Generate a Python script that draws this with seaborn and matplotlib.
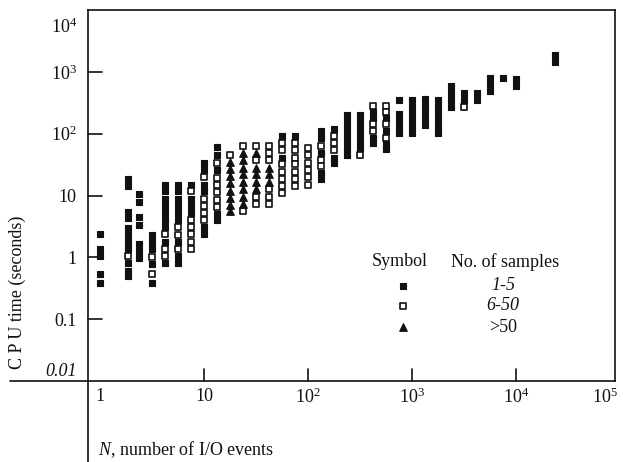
import matplotlib
matplotlib.use("Agg")
import matplotlib.pyplot as plt
from matplotlib.ticker import FixedLocator, FixedFormatter
from matplotlib.transforms import blended_transform_factory
import seaborn as sns
import pandas as pd

# CPU time (seconds) per column of N (number of I/O events), grouped by sample count
few_samples = {
    1: [2.4, 1.35, 1.04, 0.53, 0.39],
    1.86: [18.5, 14, 5.4, 4.3, 3.0, 2.3, 1.75, 1.35, 0.80, 0.61, 0.49],
    2.37: [10.4, 7.8, 4.5, 3.3, 1.65, 1.25, 0.96],
    3.16: [2.3, 1.75, 1.35, 0.77, 0.39],
    4.22: [15, 11.7, 8.8, 6.7, 5.2, 4.0, 3.1, 1.8, 0.8],
    5.62: [15, 11.7, 8.8, 6.7, 5.2, 4.0, 1.75, 1.04, 0.82],
    7.5: [15, 8.8, 6.7, 5.2],
    10: [34, 26, 15, 11.7, 3.1, 2.4],
    13.3: [61, 46, 26, 5.0, 4.0],
    56.2: [92, 41],
    75: [92],
    133: [111, 86, 48, 23, 18.5],
    178: [120, 41, 33],
    237: [198, 160, 124, 96, 74, 56, 45],
    316: [198, 160, 124, 96, 74, 58],
    422: [221, 178, 86, 71],
    562: [178, 111, 68, 56],
    750: [350, 205, 160, 124, 104],
    1000: [350, 274, 213, 165, 129, 104],
    1330: [365, 284, 221, 170, 138],
    1780: [350, 274, 213, 165, 129, 104],
    2370: [580, 450, 350, 274],
    3160: [450, 350],
    4220: [450, 350],
    5620: [805, 625, 487],
    7500: [805],
    10000: [776, 600],
    23700: [1850, 1430],
}

mid_samples = {
    1.86: [1.04],
    3.16: [1.0, 0.53],
    4.22: [2.4, 1.35, 1.04],
    5.62: [3.1, 2.3, 1.35],
    7.5: [11.7, 4.0, 3.1, 2.4, 1.8, 1.35],
    10: [20, 8.8, 6.7, 5.2, 4.0],
    13.3: [34, 19, 14.7, 11.2, 8.5, 6.5],
    17.8: [46],
    23.7: [63, 5.6],
    31.6: [63, 37, 9.5, 7.3],
    42.2: [63, 48, 37, 12.6, 9.5, 7.3],
    56.2: [71, 54, 32, 24, 18.5, 14, 10.8],
    75: [71, 54, 41, 32, 24, 18.5, 14],
    100: [58, 45, 34, 26, 20, 15],
    133: [63, 38, 30],
    178: [92, 71, 54],
    316: [46],
    422: [284, 143, 111],
    562: [284, 221, 143, 86],
    3160: [265],
}

many_samples = {
    17.8: [35, 27, 21, 16, 12, 9.2, 7.0, 5.6],
    23.7: [48, 37, 28, 22, 16.5, 12.6, 9.5, 7.3],
    31.6: [48, 28, 22, 16.5, 12.6],
    42.2: [28, 22, 16.5],
}

group_labels = ["1-5", "6-50", ">50"]

x_major = [10, 100, 1000, 10000]
x_major_labels = ["10", "$10^2$", "$10^3$", "$10^4$"]
y_major = [0.1, 1, 10, 100, 1000]
y_major_labels = ["0.1", "1", "10", "$10^2$", "$10^3$"]

rows = []
for label, groups in zip(group_labels, [few_samples, mid_samples, many_samples]):
    for n, values in groups.items():
        for v in values:
            rows.append({"N": n, "cpu": v, "samples": label})
df = pd.DataFrame(rows)

ink = "#111111"
sns.set_theme(style="ticks")
plt.rcParams.update({
    "font.family": ["Liberation Serif", "DejaVu Serif"],
    "mathtext.fontset": "custom",
    "mathtext.rm": "Liberation Serif",
    "mathtext.it": "Liberation Serif:italic",
})

W, H = 623, 462
fig = plt.figure(figsize=(W / 100, H / 100), dpi=100)
ax = fig.add_axes([88 / W, 1 - 381 / H, 527 / W, 371 / H])

marker_map = {"1-5": "s", "6-50": "s", ">50": "^"}
size_map = {"1-5": 20, "6-50": 15, ">50": 30}
face_map = {"1-5": ink, "6-50": "white", ">50": ink}
edge_width = {"1-5": 0.8, "6-50": 1.2, ">50": 0.8}

for lab in group_labels:
    sub = df[df["samples"] == lab]
    sns.scatterplot(
        data=sub, x="N", y="cpu", marker=marker_map[lab], s=size_map[lab],
        color=face_map[lab], edgecolor=ink, linewidth=edge_width[lab],
        legend=False, ax=ax, zorder=3,
    )

ax.set_xscale("log")
ax.set_yscale("log")
ax.set_xlim(10 ** -0.115, 10 ** 4.952)
ax.set_ylim(0.01, 1e4)

ax.xaxis.set_major_locator(FixedLocator(x_major))
ax.xaxis.set_major_formatter(FixedFormatter(x_major_labels))
ax.xaxis.set_minor_locator(FixedLocator([1, 10 ** 4.86]))
ax.xaxis.set_minor_formatter(FixedFormatter(["1", "$10^5$"]))
ax.yaxis.set_major_locator(FixedLocator(y_major))
ax.yaxis.set_major_formatter(FixedFormatter(y_major_labels))
ax.yaxis.set_minor_locator(FixedLocator([10 ** -1.82, 10 ** 3.76]))
ax.yaxis.set_minor_formatter(FixedFormatter(["0.01", "$10^4$"]))

# labels only from the axis machinery; the inward tick strokes are drawn below
ax.tick_params(axis="both", which="both", direction="in", colors=ink,
               labelsize=13, length=0, left=True, bottom=True)
ax.tick_params(axis="y", which="both", pad=8)
ax.tick_params(axis="x", which="both", pad=5)
for lbl in ax.yaxis.get_minorticklabels():
    if lbl.get_text() == "0.01":
        lbl.set_fontstyle("italic")

ax.set_xlabel("")
ax.set_ylabel("")
for side in ["left", "right", "top", "bottom"]:
    ax.spines[side].set_visible(True)
    ax.spines[side].set_color(ink)
    ax.spines[side].set_linewidth(1.2)

# inward tick strokes at the major tick positions
y_tick_tf = blended_transform_factory(ax.transAxes, ax.transData)
for yv in y_major:
    ax.plot([0, 14 / 527], [yv, yv], transform=y_tick_tf, color=ink, lw=1.2,
            clip_on=False, zorder=4)
x_tick_tf = blended_transform_factory(ax.transData, ax.transAxes)
for xv in x_major:
    ax.plot([xv, xv], [0, 12 / 371], transform=x_tick_tf, color=ink, lw=1.2,
            clip_on=False, zorder=4)

# axis lines run on past the frame: the y axis down, the x axis to the left
ax.plot([0, 0], [0, -0.2183], transform=ax.transAxes, color=ink, lw=1.2, clip_on=False)
ax.plot([-0.148, 0], [0, 0], transform=ax.transAxes, color=ink, lw=1.2, clip_on=False)

fig.text(17 / W, 1 - 292 / H, "C P U time (seconds)", rotation=90,
         ha="center", va="center", fontsize=13, color=ink)
fig.text(98 / W, 1 - 450 / H, "$\\mathit{N}$, number of I/O events",
         ha="left", va="center", fontsize=13, color=ink)

# symbol key
fig.text(400 / W, 1 - 262 / H, "Symbol", ha="center", va="center", fontsize=13, color=ink)
fig.text(505 / W, 1 - 262 / H, "No. of samples", ha="center", va="center", fontsize=13, color=ink)
key_rows = [286, 306, 327]
key_fonts = ["italic", "italic", "normal"]
for py, lab, fs in zip(key_rows, group_labels, key_fonts):
    ax.scatter([403 / W], [1 - py / H], transform=fig.transFigure,
               marker=marker_map[lab], s=size_map[lab], facecolor=face_map[lab],
               edgecolor=ink, linewidth=edge_width[lab], clip_on=False, zorder=4)
    fig.text(503 / W, 1 - py / H, lab, ha="center", va="center", fontsize=13,
             color=ink, fontstyle=fs)

fig.savefig("out.png", dpi=100, facecolor="white")
